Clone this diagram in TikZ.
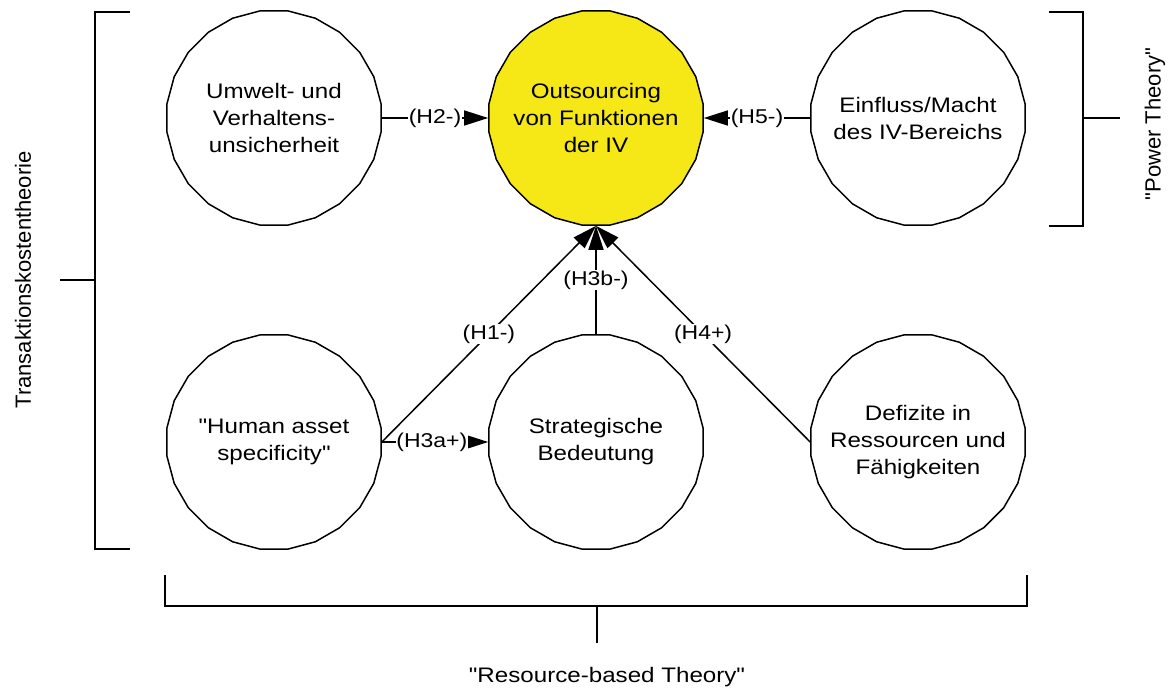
\documentclass[tikz,border=0pt]{standalone}
\usepackage{fontspec}
\setmainfont{Liberation Sans}[FakeStretch=1.15,Ligatures=TeXOff]
\newfontfamily\rotfont{Liberation Sans}[Ligatures=TeXOff]
\usetikzlibrary{shapes.geometric,arrows.meta}
\definecolor{outgelb}{HTML}{F5E816}

\begin{document}
\begin{tikzpicture}[x=1pt,y=-1pt,line width=1.5pt,
  konstrukt/.style={draw,regular polygon,regular polygon sides=24,minimum size=216pt,
    inner sep=0pt,label={[align=center,font=\fontsize{21}{27}\selectfont]center:#1}},
  hyp/.style={-{Triangle[length=24pt,width=15pt]}},
  hlabel/.style={fill=white,inner sep=.5pt,font=\fontsize{20}{24}\selectfont},
  theorie/.style={font=\rotfont\fontsize{22}{26}\selectfont}]
\useasboundingbox (0,0) rectangle (1172,690);

% constructs
\node [konstrukt={Umwelt- und\\Verhaltens-\\unsicherheit}] (umwelt) at (274,118) {};
\node [konstrukt={Outsourcing\\von Funktionen\\der IV},fill=outgelb] (outs) at (596,118) {};
\node [konstrukt={Einfluss/Macht\\des IV-Bereichs}] (macht) at (918,118) {};
\node [konstrukt={"Human asset\\specificity"}] (human) at (274,442) {};
\node [konstrukt={Strategische\\Bedeutung}] (strat) at (596,442) {};
\node [konstrukt={Defizite in\\Ressourcen und\\Fähigkeiten}] (defizit) at (918,442) {};

% hypotheses
\draw [hyp] (umwelt.east) -- (outs.west) node [hlabel,midway] {(H2-)};
\draw [hyp] (macht.west) -- (outs.east) node [hlabel,midway] {(H5-)};
\draw [hyp] (human.east) -- (strat.west) node [hlabel,pos=.47] {(H3a+)};
\draw [hyp] (strat.north) -- (outs.south) node [hlabel,midway] {(H3b-)};
\draw [hyp] (human.east) -- (outs.south) node [hlabel,midway] {(H1-)};
\draw [hyp] (defizit.west) -- (outs.south) node [hlabel,midway] {(H4+)};

% theories
\draw (130,12) -- (95,12) -- (95,549) -- (130,549);
\draw (60,280) -- (95,280);
\node [theorie,rotate=90] (tkt) at (23,280) {Transaktionskostentheorie};
\draw (1049,12) -- (1083,12) -- (1083,226) -- (1049,226);
\draw (1083,118) -- (1120,118);
\node [theorie,rotate=90] (power) at (1155,124) {"Power Theory"};
\draw (165,575) -- (165,606) -- (1027,606) -- (1027,575);
\draw (597,606) -- (597,643);
\node [font=\fontsize{21}{27}\selectfont] (rbt) at (607,677) {"Resource-based Theory"};
\end{tikzpicture}
\end{document}
